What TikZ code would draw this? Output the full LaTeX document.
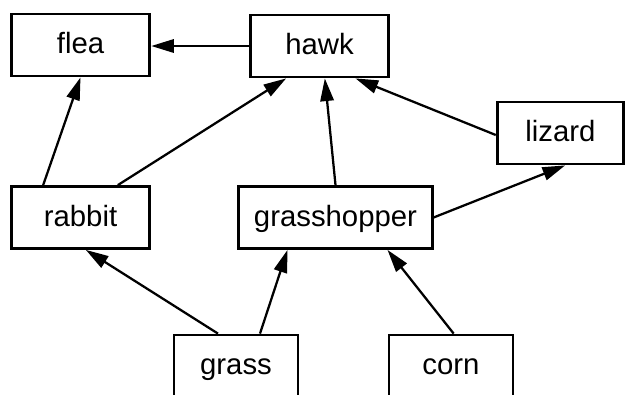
\documentclass[tikz,border=0pt]{standalone}
\usepackage{fontspec}
\setmainfont{Liberation Sans}
\usetikzlibrary{arrows.meta}

\tikzset{every picture/.style={line width=0.75pt}}

\begin{document}
\begin{tikzpicture}[x=0.75pt,y=0.75pt,yscale=-1,xscale=1,
  animal/.style={draw,line width=2.1pt,minimum height=46.5pt,inner sep=0pt,text height=15.8pt,text depth=3pt,font=\fontsize{22}{26}\selectfont},
  eats/.style={line width=1.7pt,-{Triangle[length=17pt,width=10pt]}}]
%set diagram left start at 0, and has height of 394
\useasboundingbox (0,0) rectangle (626,394);

% Boxes
\node [animal,minimum width=104pt] (flea) at (80.5,45) {flea};
\node [animal,minimum width=104pt] (hawk) at (319.5,46) {hawk};
\node [animal,minimum width=95pt] (lizard) at (560.5,133) {lizard};
\node [animal,minimum width=104pt] (rabbit) at (80.5,217.5) {rabbit};
\node [animal,minimum width=145pt] (grasshopper) at (335.5,217.5) {grasshopper};
\node [animal,minimum width=93pt] (grass) at (236,366) {grass};
\node [animal,minimum width=93pt] (corn) at (451,366) {corn};

% Arrows
\draw [eats] (hawk.west) -- (hawk.west -| flea.east);
\draw [eats] ([xshift=-28pt]rabbit.north) -- (flea.south);
\draw [eats] ([xshift=28pt]rabbit.north) -- ([xshift=-25pt]hawk.south);
\draw [eats] (grasshopper.north) -- ([xshift=4pt]hawk.south);
\draw [eats] ([yshift=1.5pt]lizard.west) -- ([xshift=27pt]hawk.south);
\draw [eats] (grasshopper.east) -- ([xshift=3.5pt]lizard.south);
\draw [eats] ([xshift=-13.5pt]grass.north) -- ([xshift=4pt]rabbit.south);
\draw [eats] ([xshift=18pt]grass.north) -- ([xshift=-36pt]grasshopper.south);
\draw [eats] ([xshift=2pt]corn.north) -- ([xshift=39pt]grasshopper.south);
\end{tikzpicture}
\end{document}
